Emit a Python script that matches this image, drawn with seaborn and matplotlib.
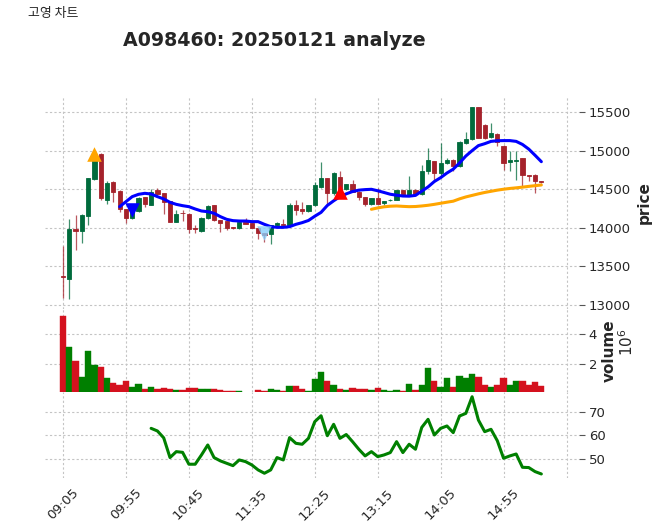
import numpy as np
import pandas as pd
import matplotlib
matplotlib.use("Agg")
import matplotlib.pyplot as plt
import seaborn as sns

# 5분봉 데이터 (화면에서 읽은 값)
tick_labels = ["09:05", "09:55", "10:45", "11:35", "12:25", "13:15", "14:05", "14:55", ""]

opens = [13380, 13340, 13985, 13965, 14150, 14630, 14960, 14365, 14595, 14478,
         14242, 14125, 14220, 14398, 14300, 14486, 14450, 14345, 14080, 14198,
         14180, 14000, 13965, 14125, 14290, 14098, 14085, 14008, 13995, 14080,
         14058, 14002, 13930, 13925, 14030, 14050, 14040, 14295, 14245, 14215,
         14292, 14530, 14640, 14445, 14660, 14505, 14565, 14468, 14402, 14315,
         14382, 14317, 14355, 14360, 14490, 14428, 14492, 14435, 14730, 14865,
         14712, 14838, 14885, 14800, 15095, 15150, 15565, 15335, 15175, 15222,
         15065, 14850, 14870, 14900, 14680, 14688, 14605]
highs = [13760, 14120, 14170, 14180, 14650, 14920, 14965, 14605, 14610, 14490,
         14250, 14290, 14400, 14400, 14500, 14510, 14455, 14350, 14230, 14230,
         14190, 14035, 14135, 14295, 14295, 14105, 14090, 14012, 14090, 14125,
         14065, 14010, 13935, 14035, 14070, 14110, 14320, 14355, 14335, 14300,
         14590, 14855, 14650, 14725, 14730, 14570, 14620, 14475, 14405, 14390,
         14510, 14350, 14375, 14495, 14495, 14665, 14500, 14815, 15040, 14870,
         15095, 14905, 14890, 15130, 15245, 15570, 15570, 15340, 15355, 15230,
         15070, 14990, 14990, 14905, 14690, 14700, 14610]
lows = [13090, 13080, 13710, 13800, 14040, 14620, 14355, 14315, 14335, 14210,
        14065, 14110, 14210, 14270, 14295, 14420, 14177, 14075, 14070, 14090,
        13930, 13930, 13950, 14110, 14085, 13950, 13970, 13985, 13990, 14050,
        13995, 13860, 13820, 13790, 14020, 14035, 14035, 14160, 14180, 14205,
        14285, 14510, 14315, 14420, 14440, 14495, 14460, 14360, 14285, 14290,
        14305, 14300, 14345, 14355, 14415, 14420, 14420, 14430, 14700, 14600,
        14690, 14830, 14730, 14790, 15080, 15140, 15160, 15150, 15160, 15060,
        14750, 14730, 14620, 14535, 14610, 14450, 14580]
closes = [13360, 13980, 13965, 14165, 14645, 14880, 14380, 14585, 14465, 14245,
          14122, 14280, 14385, 14305, 14470, 14432, 14338, 14080, 14178, 14186,
          13990, 13990, 14128, 14280, 14100, 14068, 14003, 13998, 14080, 14055,
          14002, 13930, 13910, 14030, 14065, 14040, 14300, 14228, 14218, 14292,
          14550, 14650, 14445, 14705, 14465, 14565, 14468, 14402, 14315, 14385,
          14315, 14345, 14365, 14490, 14428, 14490, 14432, 14735, 14880, 14712,
          14838, 14880, 14800, 15110, 15150, 15568, 15170, 15160, 15225, 15110,
          14835, 14880, 14885, 14688, 14668, 14602, 14595]
# 거래량 (백만 주)
volumes = [5.19, 3.12, 2.18, 1.12, 2.88, 1.93, 1.80, 1.05, 0.75, 0.61,
           0.88, 0.50, 0.68, 0.37, 0.50, 0.37, 0.44, 0.37, 0.30, 0.28,
           0.44, 0.44, 0.37, 0.37, 0.33, 0.28, 0.22, 0.22, 0.22, 0.05,
           0.05, 0.30, 0.20, 0.37, 0.26, 0.20, 0.55, 0.55, 0.33, 0.22,
           0.99, 1.45, 0.88, 0.61, 0.37, 0.26, 0.44, 0.33, 0.37, 0.30,
           0.44, 0.26, 0.20, 0.26, 0.22, 0.68, 0.28, 0.61, 1.74, 0.88,
           0.46, 1.05, 0.46, 1.19, 1.05, 1.36, 1.12, 0.61, 0.46, 0.61,
           1.05, 0.61, 0.88, 0.88, 0.61, 0.81, 0.55]

# 이동평균선 (시작 봉 이후 값)
ma_short_start = 9
ma_short = [14274, 14339, 14404, 14434, 14447, 14438, 14404, 14374, 14330, 14304,
            14287, 14274, 14244, 14218, 14209, 14188, 14145, 14110, 14093, 14088,
            14088, 14080, 14080, 14045, 14015, 14006, 14006, 14015, 14045, 14067,
            14095, 14150, 14200, 14290, 14350, 14404, 14440, 14470, 14488, 14495,
            14499, 14480, 14458, 14435, 14422, 14412, 14410, 14420, 14475, 14530,
            14600, 14650, 14710, 14760, 14840, 14930, 15000, 15065, 15090, 15120,
            15128, 15130, 15130, 15120, 15080, 15020, 14940, 14857]
ma_long_start = 49
ma_long = [14240, 14258, 14272, 14280, 14283, 14278, 14274, 14276, 14283, 14292,
           14304, 14318, 14332, 14345, 14375, 14400, 14420, 14440, 14458, 14473,
           14488, 14500, 14510, 14518, 14527, 14537, 14546, 14555]

# 보조지표 (RSI)
rsi_start = 14
rsi = [63.0, 61.9, 59.0, 50.7, 53.2, 52.9, 47.9, 47.9, 51.8, 56.0,
       50.7, 49.3, 48.3, 47.3, 49.7, 49.0, 47.6, 45.5, 44.1, 45.5,
       50.7, 49.7, 59.1, 56.7, 56.3, 58.8, 65.8, 68.3, 59.9, 64.7,
       58.8, 60.4, 57.4, 54.2, 51.4, 53.2, 51.1, 51.8, 52.8, 57.4,
       52.8, 56.3, 54.2, 63.4, 66.8, 60.2, 63.0, 64.0, 61.2, 68.2,
       69.3, 76.3, 66.5, 61.6, 62.6, 57.8, 50.4, 51.4, 52.2, 46.6,
       46.5, 44.8, 43.8]

# 매매 신호
signal_idx = [5, 11, 32, 44]
signal_price = [14950, 14230, 13935, 14470]
signal_marker = ["^", "v", "v", "^"]
signal_color = ["orange", "blue", "lightskyblue", "red"]


def style_axis(ax):
    ax.grid(True, linestyle=(0, (2, 2)), color="#c4c4c4", linewidth=0.8)
    for s in ax.spines.values():
        s.set_visible(False)
    ax.yaxis.tick_right()
    ax.yaxis.set_label_position("right")
    ax.tick_params(axis="y", labelsize=9.5, length=4, color="#555555", pad=3)


def draw_chart():
    sns.set_style("white")
    plt.rcParams["font.family"] = ["DejaVu Sans"]

    df = pd.DataFrame({"open": opens, "high": highs, "low": lows,
                       "close": closes, "volume": volumes})
    df["idx"] = np.arange(len(df))
    up = df["close"] >= df["open"]

    fig = plt.figure(figsize=(6.65, 5.30), dpi=100)
    left, width = 45 / 665, 534 / 665
    ax_p = fig.add_axes([left, 1 - 309 / 530, width, 212 / 530])
    ax_v = fig.add_axes([left, 1 - 392 / 530, width, 83 / 530], sharex=ax_p)
    ax_r = fig.add_axes([left, 1 - 478 / 530, width, 86 / 530], sharex=ax_p)

    # 캔들
    for mask, col in [(up, "#006b3c"), (~up, "#a5222b")]:
        d = df[mask]
        ax_p.vlines(d["idx"], d["low"], d["high"], color=col, linewidth=0.9, alpha=0.75, zorder=2)
        body_low = np.minimum(d["open"], d["close"])
        body_h = (d["close"] - d["open"]).abs()
        ax_p.bar(d["idx"], body_h, bottom=body_low, width=0.68, color=col,
                 edgecolor=col, linewidth=0.6, zorder=3)

    # 이동평균
    ms = pd.DataFrame({"idx": np.arange(len(ma_short)) + ma_short_start, "ma": ma_short})
    ml = pd.DataFrame({"idx": np.arange(len(ma_long)) + ma_long_start, "ma": ma_long})
    sns.lineplot(data=ms, x="idx", y="ma", ax=ax_p, color="blue", linewidth=2.2, zorder=4)
    sns.lineplot(data=ml, x="idx", y="ma", ax=ax_p, color="orange", linewidth=2.2, zorder=4)

    # 신호 마커
    for i, p, m, c in zip(signal_idx, signal_price, signal_marker, signal_color):
        a = 0.8 if c == "lightskyblue" else 1.0
        ax_p.scatter([i], [p], marker=m, s=110, color=c, alpha=a, zorder=5, linewidths=0)

    ax_p.set_ylim(12948, 15695)
    ax_p.set_yticks(range(13000, 15501, 500))

    # 거래량
    vcol = np.where(up, "#007f00", "#d4111e")
    ax_v.bar(df["idx"], df["volume"], width=1.0, color=vcol, edgecolor=vcol, linewidth=0.3)
    ax_v.set_ylim(0.15, 5.63)
    ax_v.set_yticks([2, 4])

    # RSI
    rs = pd.DataFrame({"idx": np.arange(len(rsi)) + rsi_start, "rsi": rsi})
    sns.lineplot(data=rs, x="idx", y="rsi", ax=ax_r, color="green", linewidth=2.2)
    ax_r.set_ylim(42.1, 78.3)
    ax_r.set_yticks([50, 60, 70])

    for ax in (ax_p, ax_v, ax_r):
        style_axis(ax)
        ax.set_xlabel("")
        ax.set_ylabel("")
    ax_p.set_ylabel("price", fontsize=11, fontweight="bold")
    ax_p.yaxis.set_label_coords((637 - 45) / 534, 0.5)
    ax_v.set_ylabel("volume", fontsize=11, fontweight="bold")
    ax_v.yaxis.set_label_coords((602 - 45) / 534, 0.5)
    fig.text(627 / 665, 1 - 342 / 530, "$10^6$", rotation=90, fontsize=11,
             ha="center", va="center")

    ax_p.set_xlim((45 - 63) / 6.294, (579 - 63) / 6.294)
    ax_r.set_xticks(range(0, 81, 10))
    ax_r.set_xticklabels(tick_labels, rotation=45, fontsize=9.5)
    ax_r.tick_params(axis="x", length=4, color="#333333", pad=2)
    for ax in (ax_p, ax_v):
        ax.tick_params(axis="x", labelbottom=False, length=0)

    fig.text(0.412, 1 - 40 / 530, "A098460: 20250121 analyze", fontsize=13.7,
             fontweight="bold", ha="center", va="center")
    fig.text(28 / 665, 1 - 13 / 530, "고영 차트", fontsize=9.3, ha="left", va="center",
             family=["Noto Sans CJK KR", "DejaVu Sans"])

    fig.savefig("out.png", dpi=100)
    plt.close(fig)


if __name__ == "__main__":
    draw_chart()
